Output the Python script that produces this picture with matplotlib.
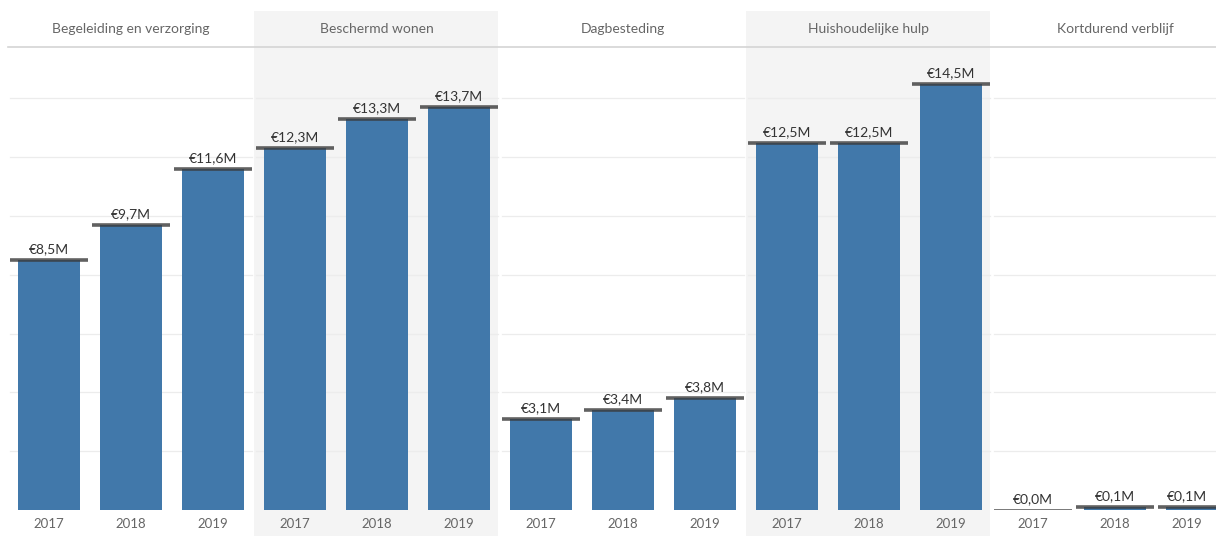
import matplotlib
matplotlib.use("Agg")
import matplotlib.pyplot as plt
from matplotlib.patches import Rectangle
import matplotlib.transforms as mtrans

# ---- data ----
categories = ["Begeleiding en verzorging", "Beschermd wonen", "Dagbesteding",
              "Huishoudelijke hulp", "Kortdurend verblijf"]
years = ["2017", "2018", "2019"]
begeleiding = [8.5, 9.7, 11.6]
beschermd = [12.3, 13.3, 13.7]
dagbesteding = [3.1, 3.4, 3.8]
huishoudelijk = [12.5, 12.5, 14.5]
kortdurend = [0.0, 0.1, 0.1]
series = [begeleiding, beschermd, dagbesteding, huishoudelijk, kortdurend]
grid_ticks = [2, 4, 6, 8, 10, 12, 14]

# ---- style ----
W, H = 1216, 536
plt.rcParams['font.family'] = ['Lato', 'DejaVu Sans']
fig = plt.figure(figsize=(W / 100, H / 100), dpi=100)
fig.patch.set_facecolor('white')

bar_color = '#4178AA'
ref_color = '#3a3a3a'
shade = '#f4f4f4'
panel_w = 246
left0 = 8
base_y = 510
top_y = 47

def fx(px):
    return px / W

def fy(py):
    return (H - py) / H

# shaded panel backgrounds (incl. header)
for i in (1, 3):
    x0 = left0 + panel_w * i
    fig.add_artist(Rectangle((fx(x0), 0), fx(panel_w - 2), fy(11),
                             transform=fig.transFigure, facecolor=shade,
                             edgecolor='none', zorder=-5))

# header separator line
fig.add_artist(plt.Line2D([fx(8), 1], [fy(top_y), fy(top_y)],
                          transform=fig.transFigure, color='#d4d4d4', lw=1.2,
                          zorder=-4))

for i, (cat, vals) in enumerate(zip(categories, series)):
    x0 = left0 + panel_w * i
    ax = fig.add_axes([fx(x0), fy(base_y), fx(panel_w), (base_y - top_y) / H])
    ax.set_zorder(2)
    ax.set_facecolor('none')
    ax.set_xlim(-0.5, 2.5)
    ax.set_ylim(0, 15.75)
    for s in ax.spines.values():
        s.set_visible(False)
    for g in grid_ticks:
        ax.axhline(g, xmin=0.01, xmax=0.99, color='#ececec', lw=0.9, zorder=0)
    xs = range(len(years))
    ax.bar(xs, vals, width=0.756, color=bar_color, zorder=2)
    for x, v in zip(xs, vals):
        ax.plot([x - 0.48, x + 0.48], [v, v], color=ref_color, alpha=0.8,
                lw=2.6 if v > 0 else 1.2, solid_capstyle='butt', zorder=3)
        shift = -10 if (i == len(categories) - 1 and x == len(years) - 1) else 0
        ax.annotate(f"€{v:.1f}M".replace('.', ','), (x, v),
                    xytext=(shift * 0.72, 3.5), textcoords='offset points',
                    ha='center', va='bottom', fontsize=10, color='#333333',
                    zorder=4)
    ax.set_xticks(list(xs))
    ax.set_xticklabels(years, fontsize=9.5, color='#666666')
    ax.tick_params(axis='x', length=0, pad=6)
    ax.set_yticks([])
    if i == len(categories) - 1:
        lbl = ax.get_xticklabels()[-1]
        lbl.set_transform(lbl.get_transform() +
                          mtrans.ScaledTranslation(-10 / 100, 0, fig.dpi_scale_trans))
    fig.text(fx(x0 + panel_w / 2), fy(29), cat, ha='center', va='center',
             fontsize=10, color='#666666')

fig.savefig('out.png', dpi=100)
